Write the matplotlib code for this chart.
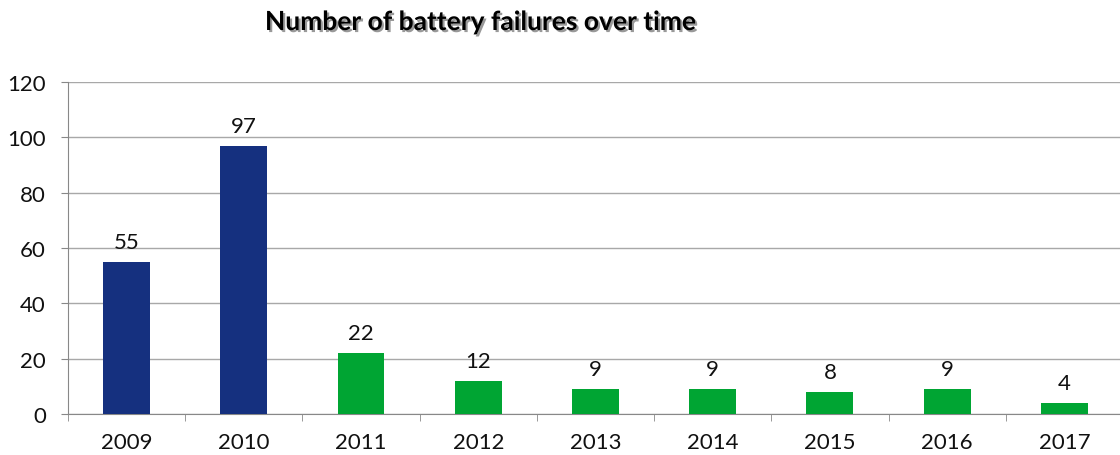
import matplotlib
matplotlib.use("Agg")
import matplotlib.pyplot as plt
import matplotlib.patheffects as pe
import numpy as np

years = ["2009", "2010", "2011", "2012", "2013", "2014", "2015", "2016", "2017"]
failures = [55, 97, 22, 12, 9, 9, 8, 9, 4]
bar_colors = ["#15307F", "#15307F", "#00A533", "#00A533", "#00A533",
              "#00A533", "#00A533", "#00A533", "#00A533"]

plt.rcParams['font.family'] = ['Lato', 'DejaVu Sans']

fig = plt.figure(figsize=(11.2, 4.56), dpi=100)
ax = fig.add_axes([68/1120, 1 - 415/456, 1 - 68/1120 + 3/1120, (415 - 83)/456])

x = np.arange(len(years))
ax.bar(x, failures, width=0.4, color=bar_colors, zorder=3)
for xi, v in zip(x, failures):
    ax.annotate(str(v), (xi, v), xytext=(0, 7), textcoords="offset points",
                ha="center", va="bottom", fontsize=16, color="#111111")

ax.set_xlim(-0.5, len(years) - 0.5)
ax.set_ylim(0, 120)
ax.set_yticks(range(0, 121, 20))
ax.set_xticks(x)
ax.set_xticklabels(years, fontsize=16, color="#111111")
ax.set_xticks(np.arange(-0.5, len(years), 1), minor=True)
ax.tick_params(axis="x", which="major", length=0, pad=13)
ax.tick_params(axis="x", which="minor", length=5, color="#888888", direction="out")
ax.tick_params(axis="y", length=5, color="#888888", labelsize=16, pad=11)
for lbl in ax.get_yticklabels():
    lbl.set_color("#111111")

ax.grid(axis="y", color="#A8A8A8", linewidth=1, zorder=0)
ax.set_axisbelow(True)
for s in ["top", "right"]:
    ax.spines[s].set_visible(False)
ax.spines["left"].set_color("#888888")
ax.spines["bottom"].set_color("#888888")

fig.text(480/1120, 1 - 23/456, "Number of battery failures over time",
         ha="center", va="center", fontsize=19, fontweight="bold", color="black",
         path_effects=[pe.withSimplePatchShadow(offset=(1.5, -1.5),
                                                shadow_rgbFace="#555555", alpha=0.6)])

fig.savefig("out.png", dpi=100)
